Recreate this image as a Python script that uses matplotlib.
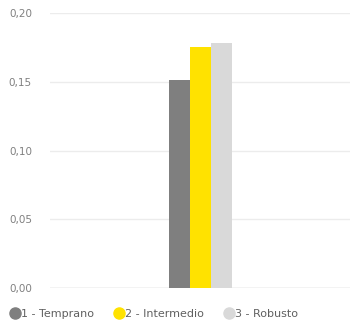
import matplotlib
matplotlib.use("Agg")
import matplotlib.pyplot as plt
from matplotlib.lines import Line2D
from matplotlib.ticker import FuncFormatter

series = ["1 - Temprano", "2 - Intermedio", "3 - Robusto"]
values = [0.151, 0.175, 0.178]
colors = ["#7f7f7f", "#ffe200", "#d9d9d9"]
yticks = [0.00, 0.05, 0.10, 0.15, 0.20]

fig = plt.figure(figsize=(3.51, 3.29), dpi=100)
ax = fig.add_axes([50/351, 41/329, 300/351, 275/329])

w = 0.07
for i, (s, v, c) in enumerate(zip(series, values, colors)):
    ax.bar((i - 1) * w, v, width=w, color=c, zorder=3)

ax.set_xlim(-0.5, 0.5)
ax.set_ylim(0, 0.20)
ax.set_yticks(yticks)
ax.yaxis.set_major_formatter(FuncFormatter(lambda v, p: f"{v:.2f}".replace(".", ",")))
ax.tick_params(axis="y", length=0, labelsize=7.5, labelcolor="#808080", pad=13)
ax.set_xticks([])
ax.grid(axis="y", color="#ececec", linewidth=1, zorder=0)
ax.axhline(0, color="#d4d4d4", linewidth=1, zorder=2)
for sp in ax.spines.values():
    sp.set_visible(False)

handles = [Line2D([0], [0], marker="o", color="none", markerfacecolor=c,
                  markeredgecolor=c, markersize=8) for c in colors]
fig.legend(handles, series, loc="center left", bbox_to_anchor=(8/351, 15/329),
           ncol=3, frameon=False, fontsize=8, labelcolor="#606060",
           handletextpad=-0.1, columnspacing=1.6, handlelength=1.3, borderaxespad=0,
           borderpad=0)

fig.savefig("out.png", dpi=100)
